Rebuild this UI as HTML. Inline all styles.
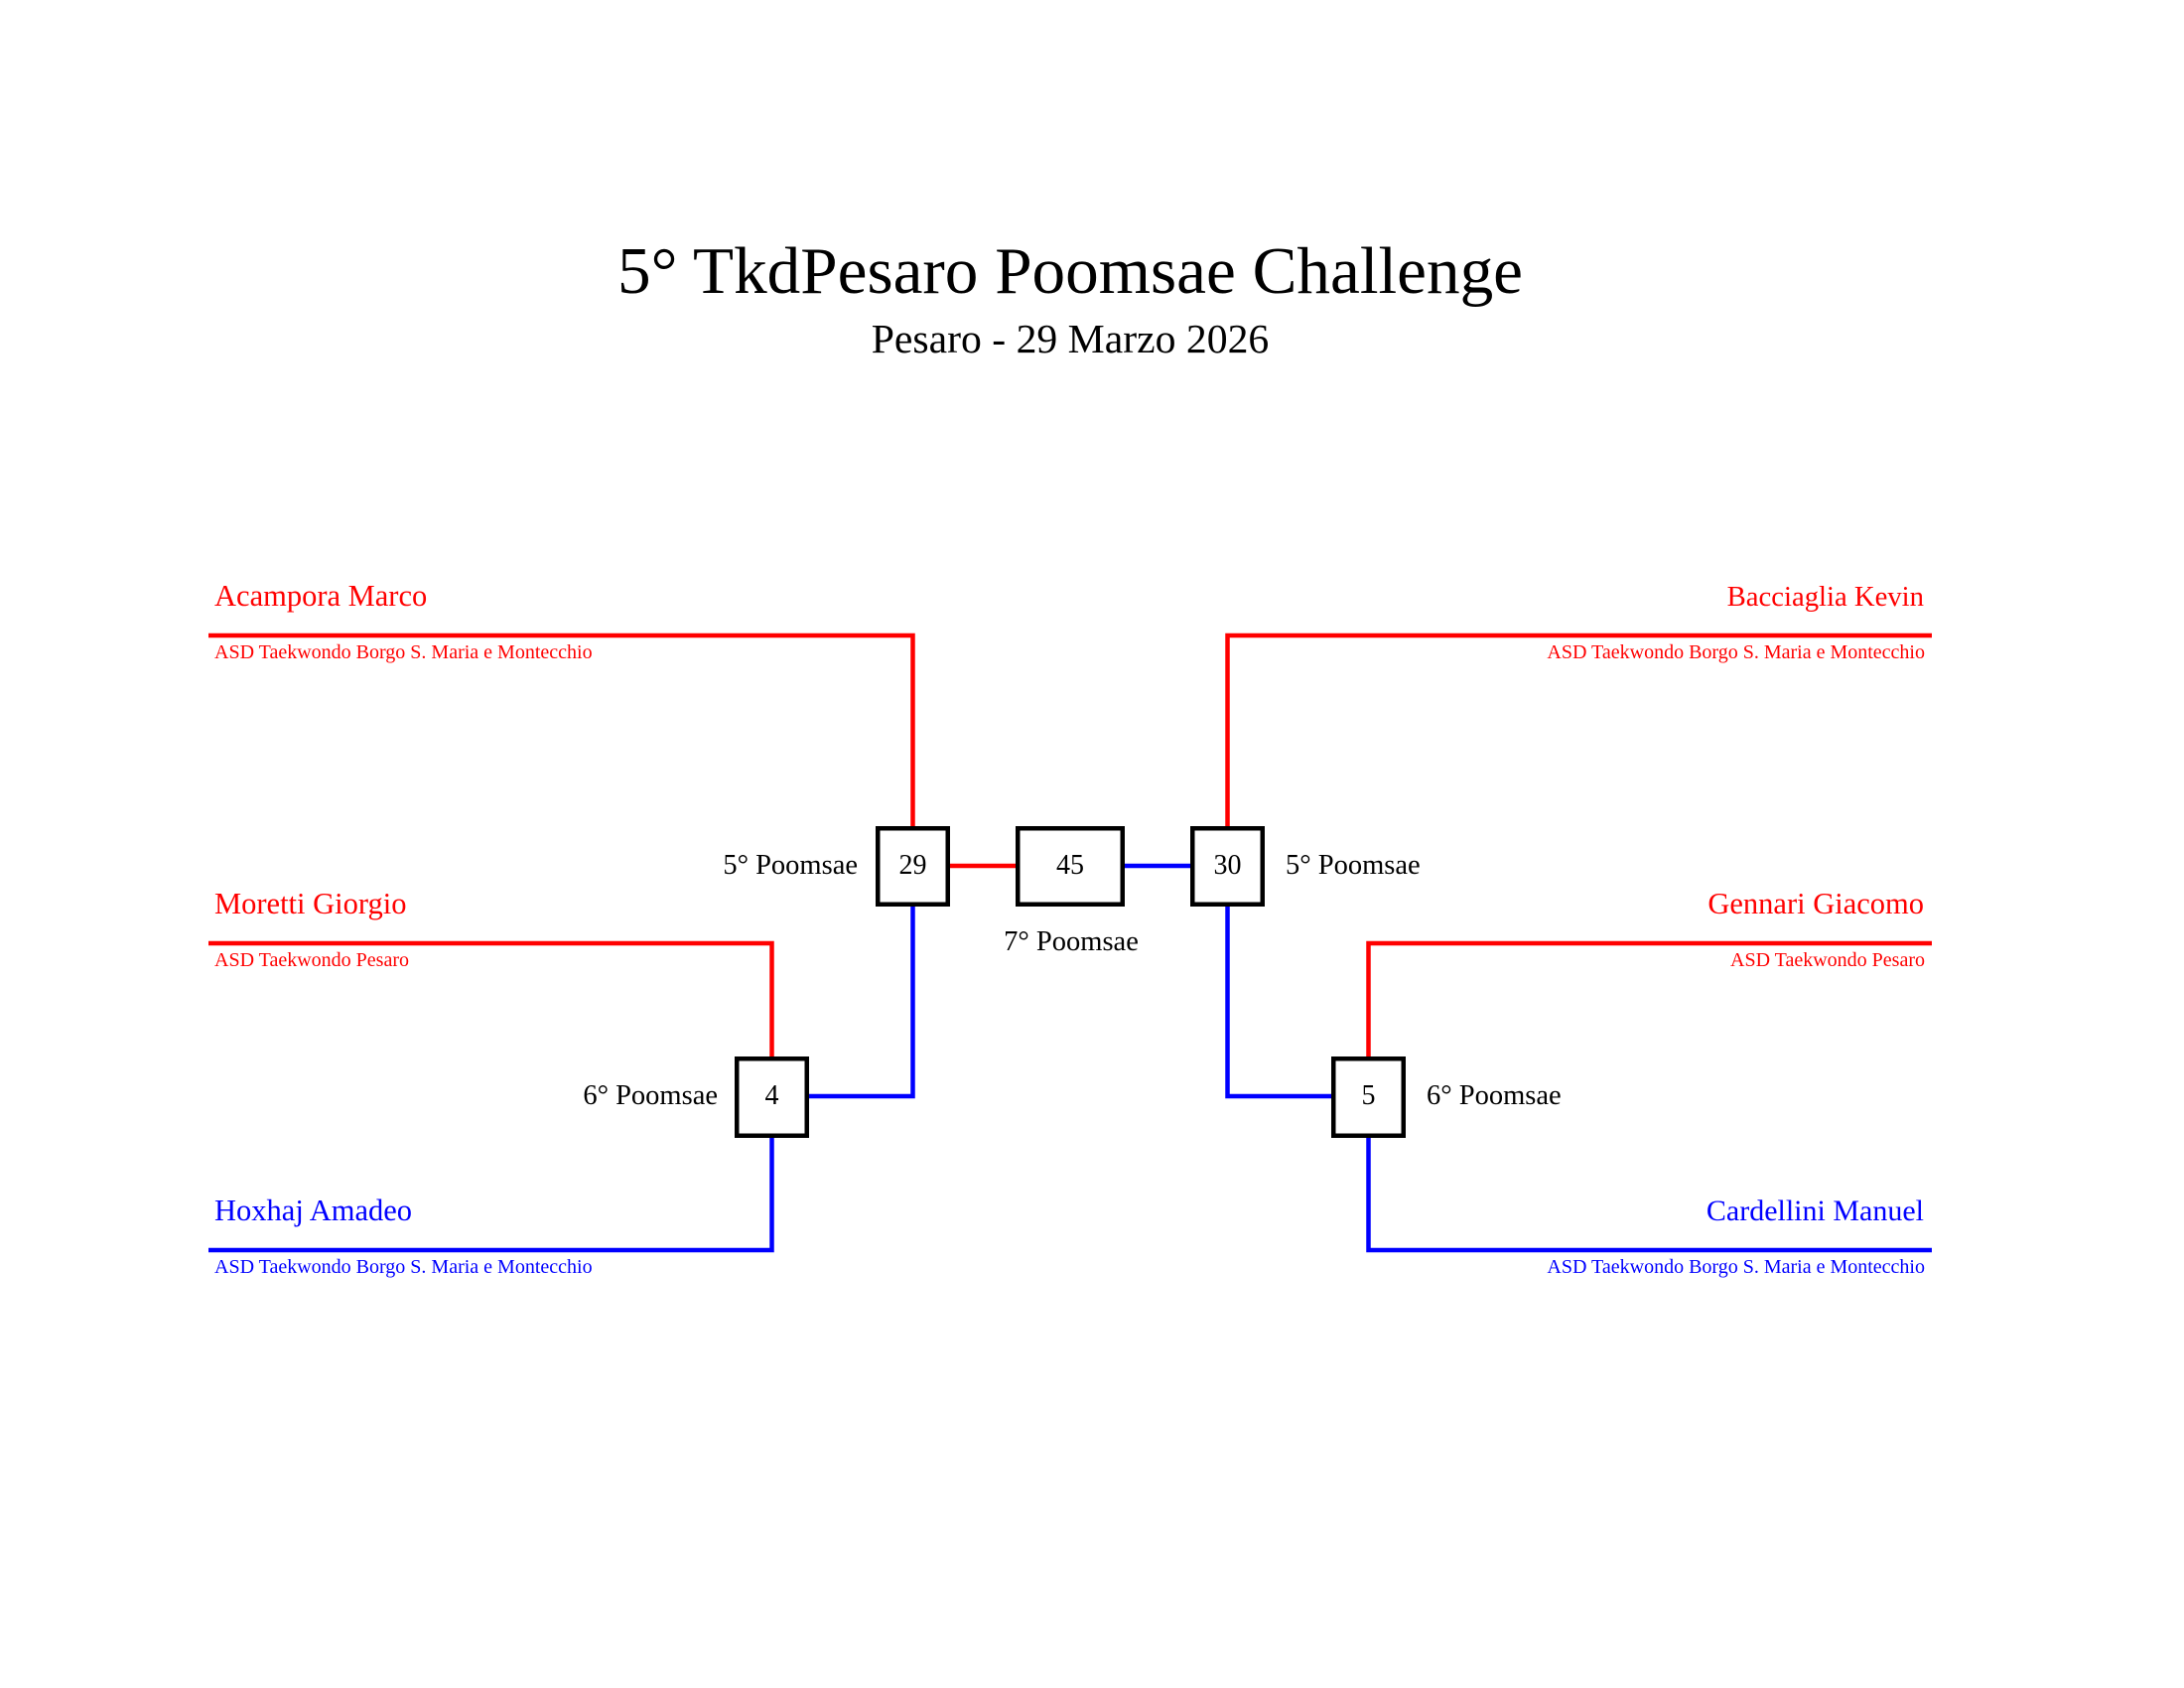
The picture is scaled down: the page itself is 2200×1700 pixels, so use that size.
<!DOCTYPE html>
<html>
<head>
<meta charset="utf-8">
<style>
  html, body { margin: 0; padding: 0; background: #fff; }
  svg { display: block; }
  text { font-family: "Liberation Serif", "Times New Roman", serif; }
</style>
</head>
<body>
<svg width="2200" height="1700" viewBox="0 0 2200 1700" xmlns="http://www.w3.org/2000/svg">
  <rect x="0" y="0" width="2200" height="1700" fill="#fff"/>

  <!-- Title -->
  <text x="1078" y="295" font-size="67.2" text-anchor="middle" fill="#000">5° TkdPesaro Poomsae Challenge</text>
  <text x="1078" y="355" font-size="41.7" text-anchor="middle" fill="#000">Pesaro - 29 Marzo 2026</text>

  <!-- Connector lines -->
  <g fill="none" stroke-width="4.5" stroke-linejoin="miter" stroke-linecap="butt">
    <!-- left side -->
    <path d="M210 640 H919.5 V834" stroke="#ff0000"/>
    <path d="M919.5 911 V1104 H813" stroke="#0000ff"/>
    <path d="M210 950 H777.5 V1066" stroke="#ff0000"/>
    <path d="M210 1259 H777.5 V1144" stroke="#0000ff"/>
    <!-- center -->
    <path d="M955 872 H1025" stroke="#ff0000"/>
    <path d="M1131 872 H1201" stroke="#0000ff"/>
    <!-- right side -->
    <path d="M1946 640 H1236.5 V834" stroke="#ff0000"/>
    <path d="M1236.5 911 V1104 H1343" stroke="#0000ff"/>
    <path d="M1946 950 H1378.5 V1066" stroke="#ff0000"/>
    <path d="M1946 1259 H1378.5 V1144" stroke="#0000ff"/>
  </g>

  <!-- Boxes -->
  <g fill="#fff" stroke="#000" stroke-width="4.5">
    <rect x="884.25" y="834.25" width="70.5" height="76.5"/>
    <rect x="1025.25" y="834.25" width="105.5" height="76.5"/>
    <rect x="1201.25" y="834.25" width="70.5" height="76.5"/>
    <rect x="742.25" y="1066.25" width="70.5" height="77.5"/>
    <rect x="1343.25" y="1066.25" width="70.5" height="77.5"/>
  </g>

  <!-- Box numbers -->
  <g font-size="28" fill="#000" text-anchor="middle">
    <text x="919.5" y="880">29</text>
    <text x="1078" y="880">45</text>
    <text x="1236.5" y="880">30</text>
    <text x="777.5" y="1112">4</text>
    <text x="1378.5" y="1112">5</text>
  </g>

  <!-- Round labels -->
  <g font-size="28.5" fill="#000">
    <text x="864" y="880" text-anchor="end">5° Poomsae</text>
    <text x="1295" y="880">5° Poomsae</text>
    <text x="1079" y="957" text-anchor="middle">7° Poomsae</text>
    <text x="723" y="1112" text-anchor="end">6° Poomsae</text>
    <text x="1437" y="1112">6° Poomsae</text>
  </g>

  <!-- Left athletes -->
  <g font-size="30.5">
    <text x="216" y="610" fill="#ff0000">Acampora Marco</text>
    <text x="216" y="920" fill="#ff0000">Moretti Giorgio</text>
    <text x="216" y="1229" fill="#0000ff">Hoxhaj Amadeo</text>
  </g>
  <g font-size="20">
    <text x="216" y="663" fill="#ff0000">ASD Taekwondo Borgo S. Maria e Montecchio</text>
    <text x="216" y="973" fill="#ff0000">ASD Taekwondo Pesaro</text>
    <text x="216" y="1282" fill="#0000ff">ASD Taekwondo Borgo S. Maria e Montecchio</text>
  </g>

  <!-- Right athletes -->
  <g text-anchor="end">
    <text x="1938" y="610" font-size="28.7" fill="#ff0000">Bacciaglia Kevin</text>
    <text x="1938" y="920" font-size="30.5" fill="#ff0000">Gennari Giacomo</text>
    <text x="1938" y="1229" font-size="30" fill="#0000ff">Cardellini Manuel</text>
  </g>
  <g font-size="20" text-anchor="end">
    <text x="1939" y="663" fill="#ff0000">ASD Taekwondo Borgo S. Maria e Montecchio</text>
    <text x="1939" y="973" fill="#ff0000">ASD Taekwondo Pesaro</text>
    <text x="1939" y="1282" fill="#0000ff">ASD Taekwondo Borgo S. Maria e Montecchio</text>
  </g>
</svg>
</body>
</html>
